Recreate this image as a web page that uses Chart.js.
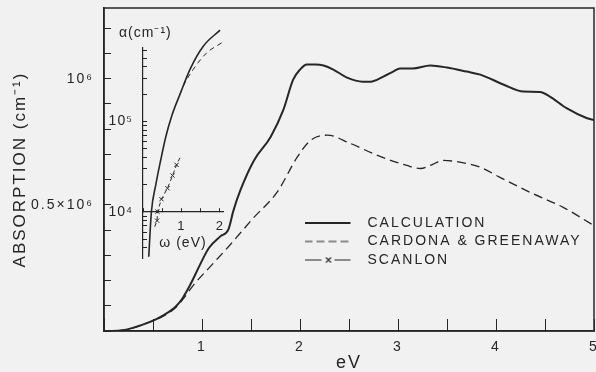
<!DOCTYPE html>
<html>
<head>
<meta charset="utf-8">
<script src="https://cdn.jsdelivr.net/npm/chart.js@4.4.1/dist/chart.umd.min.js"></script>
<style>
    html, body { margin: 0; padding: 0; background: #f1f1f1; }
    #quadro { position: relative; width: 596px; height: 372px; }
    #principal { position: absolute; left: 0; top: 0; }
    #detalhe { position: absolute; left: 100px; top: 20px; }
</style>
</head>
<body>
<div id="quadro">
    <canvas id="principal" width="596" height="372"></canvas>
    <canvas id="detalhe" width="138" height="278"></canvas>
</div>
<script>
/* Dados do gráfico principal: energia (eV) e absorção (unidades de 10^6 cm^-1) */
const calculoX = [0, 0.17, 0.47, 0.61, 0.73, 0.80, 0.88, 0.98, 1.07, 1.19,
    1.27, 1.32, 1.39, 1.53, 1.70, 1.83, 1.93, 2.00, 2.07, 2.16,
    2.24, 2.34, 2.48, 2.64, 2.72, 2.85, 2.95, 3.02, 3.15, 3.33,
    3.50, 3.70, 3.84, 4.08, 4.28, 4.45, 4.55, 4.72, 4.93, 5.00];
const calculoY = [0, 0.002, 0.036, 0.063, 0.096, 0.129, 0.183, 0.263, 0.329, 0.376,
    0.403, 0.476, 0.556, 0.676, 0.769, 0.876, 0.996, 1.036, 1.056, 1.056,
    1.052, 1.036, 1.004, 0.988, 0.988, 1.008, 1.028, 1.040, 1.040, 1.052,
    1.044, 1.028, 1.016, 0.976, 0.949, 0.947, 0.929, 0.883, 0.843, 0.836];
const cardonaX = [0, 0.17, 0.47, 0.61, 0.73, 0.80, 0.915, 1.086, 1.29, 1.52,
    1.77, 1.97, 2.11, 2.28, 2.51, 2.79, 3.09, 3.23, 3.33, 3.46,
    3.70, 3.84, 4.04, 4.35, 4.69, 4.99];
const cardonaY = [0, 0.002, 0.036, 0.060, 0.092, 0.123, 0.183, 0.256, 0.343, 0.446,
    0.552, 0.688, 0.756, 0.776, 0.744, 0.696, 0.656, 0.644, 0.656, 0.676,
    0.664, 0.649, 0.609, 0.549, 0.489, 0.420];

/* Dados do detalhe (escala log): energia (eV) e absorção (cm^-1) */
const detalheCalculoX = [0.149, 0.219, 0.332, 0.462, 0.593, 0.749, 0.958, 1.219, 1.567, 2.003];
const detalheCalculoY = [3200, 10100, 19900, 37700, 67800, 115600, 197700, 374000, 677000, 1019000];
const detalheCardonaX = [0.958, 1.044, 1.305, 1.655, 2.047];
const detalheCardonaY = [197700, 244000, 374000, 571000, 738000];
const scanlonX = [0.305, 0.366, 0.376, 0.48, 0.637, 0.768, 0.872, 0.976];
const scanlonY = [6870, 8010, 10070, 13830, 18280, 25200, 33100, 40900];

/* Rótulos dos eixos e da legenda */
const xValoresRotulo = [1, 2, 3, 4, 5];
const xRotulos = ["1", "2", "3", "4", "5"];
const yValoresRotulo = [0.5, 1.0];
const yRotulos = ["0.5×10⁶", "10⁶"];
const detalheXValores = [1, 2];
const detalheXRotulos = ["1", "2"];
const detalheYValores = [10000, 100000];
const detalheYRotulos = ["10⁴", "10⁵"];
const nomesLegenda = ["CALCULATION", "CARDONA & GREENAWAY", "SCANLON"];

const tinta = "#262626";
const fonte = "'Liberation Sans', Arial, sans-serif";

// Junta dois arrays em pontos {x, y}
function pontos(xs, ys) {
    return xs.map((x, i) => ({ x: x, y: ys[i] }));
}

// Procura o rótulo de um valor de marca (ou vazio)
function rotuloDe(valores, rotulos, v) {
    const i = valores.findIndex((a) => Math.abs(a - v) < 1e-6 * Math.max(1, Math.abs(a)));
    return i >= 0 ? rotulos[i] : "";
}

// Mantém só as marcas que caem em múltiplos do passo
function soMultiplos(passo) {
    return (escala) => {
        escala.ticks = escala.ticks.filter((t) => Math.abs(t.value / passo - Math.round(t.value / passo)) < 1e-6);
    };
}

// Amostras de linha da legenda (linha, tracejada, traço-x-traço)
function amostra(tipo) {
    const c = document.createElement("canvas");
    c.width = 56;
    c.height = 10;
    const g = c.getContext("2d");
    g.strokeStyle = tinta;
    g.lineWidth = tipo === "solida" ? 2 : 1.2;
    g.beginPath();
    if (tipo === "solida") {
        g.moveTo(0, 5); g.lineTo(46, 5);
    } else if (tipo === "tracejada") {
        g.setLineDash([8, 4]);
        g.moveTo(0, 5); g.lineTo(46, 5);
    } else {
        g.moveTo(0, 5); g.lineTo(17, 5);
        g.moveTo(30, 5); g.lineTo(46, 5);
        g.moveTo(21.5, 2.5); g.lineTo(26.5, 7.5);
        g.moveTo(26.5, 2.5); g.lineTo(21.5, 7.5);
    }
    g.stroke();
    return c;
}
const amostras = [amostra("solida"), amostra("tracejada"), amostra("scanlon")];

/* Plugins simples */
// Espaçamento entre letras, como no letreiro original
function espacoLetras(px) {
    return {
        id: "espacoLetras",
        beforeDraw(chart) { chart.ctx.letterSpacing = px; },
    };
}
// Moldura em volta da área do gráfico
const moldura = {
    id: "moldura",
    afterDraw(chart) {
        const a = chart.chartArea;
        const ctx = chart.ctx;
        ctx.save();
        ctx.strokeStyle = tinta;
        ctx.lineWidth = 1.5;
        ctx.strokeRect(a.left, a.top, a.right - a.left, a.bottom - a.top);
        ctx.restore();
    },
};
// Coloca a legenda dentro da área, em baixo à direita
const posicionaLegenda = {
    id: "posicionaLegenda",
    afterLayout(chart) {
        chart.legend.left = 300;
        chart.legend.top = 211.5;
    },
};
// Empurra o título do detalhe um pouco para a direita
const empurraTitulo = {
    id: "empurraTitulo",
    afterLayout(chart) {
        chart.titleBlock.left += 11;
        chart.titleBlock.right += 11;
    },
};

/* Gráfico principal */
new Chart(document.getElementById("principal"), {
    type: "line",
    data: {
        datasets: [
            {
                label: nomesLegenda[0],
                data: pontos(calculoX, calculoY),
                borderColor: tinta,
                borderWidth: 2,
                pointRadius: 0,
                cubicInterpolationMode: "monotone",
            },
            {
                label: nomesLegenda[1],
                data: pontos(cardonaX, cardonaY),
                borderColor: tinta,
                borderWidth: 1.3,
                borderDash: [9, 5],
                pointRadius: 0,
                cubicInterpolationMode: "monotone",
            },
        ],
    },
    options: {
        responsive: false,
        animation: false,
        events: [],
        layout: { padding: { left: 0, top: 8, right: 2, bottom: 0 } },
        plugins: {
            tooltip: { enabled: false },
            legend: {
                position: "chartArea",
                align: "start",
                labels: {
                    usePointStyle: true,
                    pointStyleWidth: 56,
                    padding: 4.5,
                    color: tinta,
                    font: { family: fonte, size: 14 },
                    generateLabels: () => nomesLegenda.map((t, i) => ({
                        text: t,
                        pointStyle: amostras[i],
                        fillStyle: "transparent",
                        strokeStyle: "transparent",
                        fontColor: tinta,
                        lineWidth: 0,
                        hidden: false,
                        datasetIndex: i,
                    })),
                },
            },
        },
        scales: {
            x: {
                type: "linear",
                min: 0,
                max: 5,
                afterBuildTicks: soMultiplos(0.5),
                ticks: {
                    stepSize: 0.5,
                    includeBounds: false,
                    autoSkip: false,
                    maxRotation: 0,
                    padding: 20,
                    color: tinta,
                    font: { family: fonte, size: 14 },
                    callback: (v) => rotuloDe(xValoresRotulo, xRotulos, v),
                },
                grid: { drawOnChartArea: false, tickLength: -12, color: tinta, tickWidth: 1 },
                border: { color: tinta, width: 1.5 },
                title: {
                    display: true,
                    text: "eV",
                    color: tinta,
                    font: { family: fonte, size: 18, lineHeight: 1 },
                    padding: { top: 0, bottom: 0 },
                },
                afterFit(escala) {
                    escala.height = 41;
                    escala.paddingLeft = 0;
                    escala.paddingRight = 0;
                },
            },
            y: {
                type: "linear",
                min: 0,
                max: 1.28,
                afterBuildTicks: soMultiplos(0.1),
                ticks: {
                    stepSize: 0.1,
                    includeBounds: false,
                    autoSkip: false,
                    padding: 17,
                    color: tinta,
                    font: { family: fonte, size: 14 },
                    callback: (v) => rotuloDe(yValoresRotulo, yRotulos, v),
                },
                grid: { drawOnChartArea: false, tickLength: -7, color: tinta, tickWidth: 1 },
                border: { color: tinta, width: 1.5 },
                title: {
                    display: true,
                    text: "ABSORPTION (cm⁻¹)",
                    color: tinta,
                    font: { family: fonte, size: 17, lineHeight: 1.2 },
                    padding: { top: 10, bottom: 0 },
                },
                afterFit(escala) {
                    escala.width = 104;
                    escala.paddingTop = 0;
                    escala.paddingBottom = 0;
                },
            },
        },
    },
    plugins: [espacoLetras("2px"), moldura, posicionaLegenda],
});

/* Detalhe com eixo logarítmico */
new Chart(document.getElementById("detalhe"), {
    type: "line",
    data: {
        datasets: [
            {
                data: pontos(detalheCalculoX, detalheCalculoY),
                borderColor: tinta,
                borderWidth: 1.6,
                pointRadius: 0,
                clip: false,
                cubicInterpolationMode: "monotone",
            },
            {
                data: pontos(detalheCardonaX, detalheCardonaY),
                borderColor: tinta,
                borderWidth: 1,
                borderDash: [5, 4],
                pointRadius: 0,
                clip: false,
                cubicInterpolationMode: "monotone",
            },
            {
                data: pontos(scanlonX, scanlonY),
                borderColor: tinta,
                borderWidth: 1,
                borderDash: [4, 3],
                pointStyle: "crossRot",
                pointBorderWidth: 1,
                pointBorderColor: tinta,
                // as pontas da reta não levam marcador
                pointRadius: (ctx) => (ctx.dataIndex === 0 || ctx.dataIndex === scanlonX.length - 1 ? 0 : 3),
                clip: false,
                tension: 0,
            },
        ],
    },
    options: {
        responsive: false,
        animation: false,
        events: [],
        layout: { padding: { left: 8, top: 0, right: 15, bottom: 40 } },
        plugins: {
            tooltip: { enabled: false },
            legend: { display: false },
            title: {
                display: true,
                text: "α(cm⁻¹)",
                align: "start",
                color: tinta,
                font: { family: fonte, size: 14, weight: "normal", lineHeight: 1.2 },
                padding: { top: 5, bottom: 6 },
            },
        },
        scales: {
            x: {
                type: "linear",
                min: 0,
                max: 2.08,
                position: { y: 10000 },
                afterBuildTicks: soMultiplos(0.5),
                ticks: {
                    stepSize: 0.5,
                    includeBounds: false,
                    autoSkip: false,
                    maxRotation: 0,
                    padding: 11,
                    color: tinta,
                    font: { family: fonte, size: 13 },
                    callback: (v) => rotuloDe(detalheXValores, detalheXRotulos, v),
                },
                grid: { drawOnChartArea: false, tickLength: -4, color: tinta },
                border: { color: tinta, width: 1.2 },
                title: {
                    display: true,
                    text: "ω (eV)",
                    color: tinta,
                    font: { family: fonte, size: 14 },
                    padding: { top: 0, bottom: 0 },
                },
                afterFit(escala) {
                    escala.height = 40;
                    escala.paddingLeft = 0;
                    escala.paddingRight = 0;
                },
            },
            y: {
                type: "logarithmic",
                min: 3100,
                max: 650000,
                afterBuildTicks(escala) {
                    // só as marcas 1..9 × 10^n
                    escala.ticks = escala.ticks.filter((t) => {
                        const s = t.value / Math.pow(10, Math.floor(Math.log10(t.value) + 1e-9));
                        return Math.abs(s - Math.round(s)) < 1e-6;
                    });
                },
                ticks: {
                    autoSkip: false,
                    padding: 14,
                    color: tinta,
                    font: { family: fonte, size: 14 },
                    callback: (v) => rotuloDe(detalheYValores, detalheYRotulos, v),
                },
                grid: { drawOnChartArea: false, tickLength: -4, color: tinta },
                border: { color: tinta, width: 1.2 },
                afterFit(escala) {
                    escala.width = 35;
                    escala.paddingTop = 0;
                    escala.paddingBottom = 0;
                },
            },
        },
    },
    plugins: [espacoLetras("1px"), empurraTitulo],
});
</script>
</body>
</html>
